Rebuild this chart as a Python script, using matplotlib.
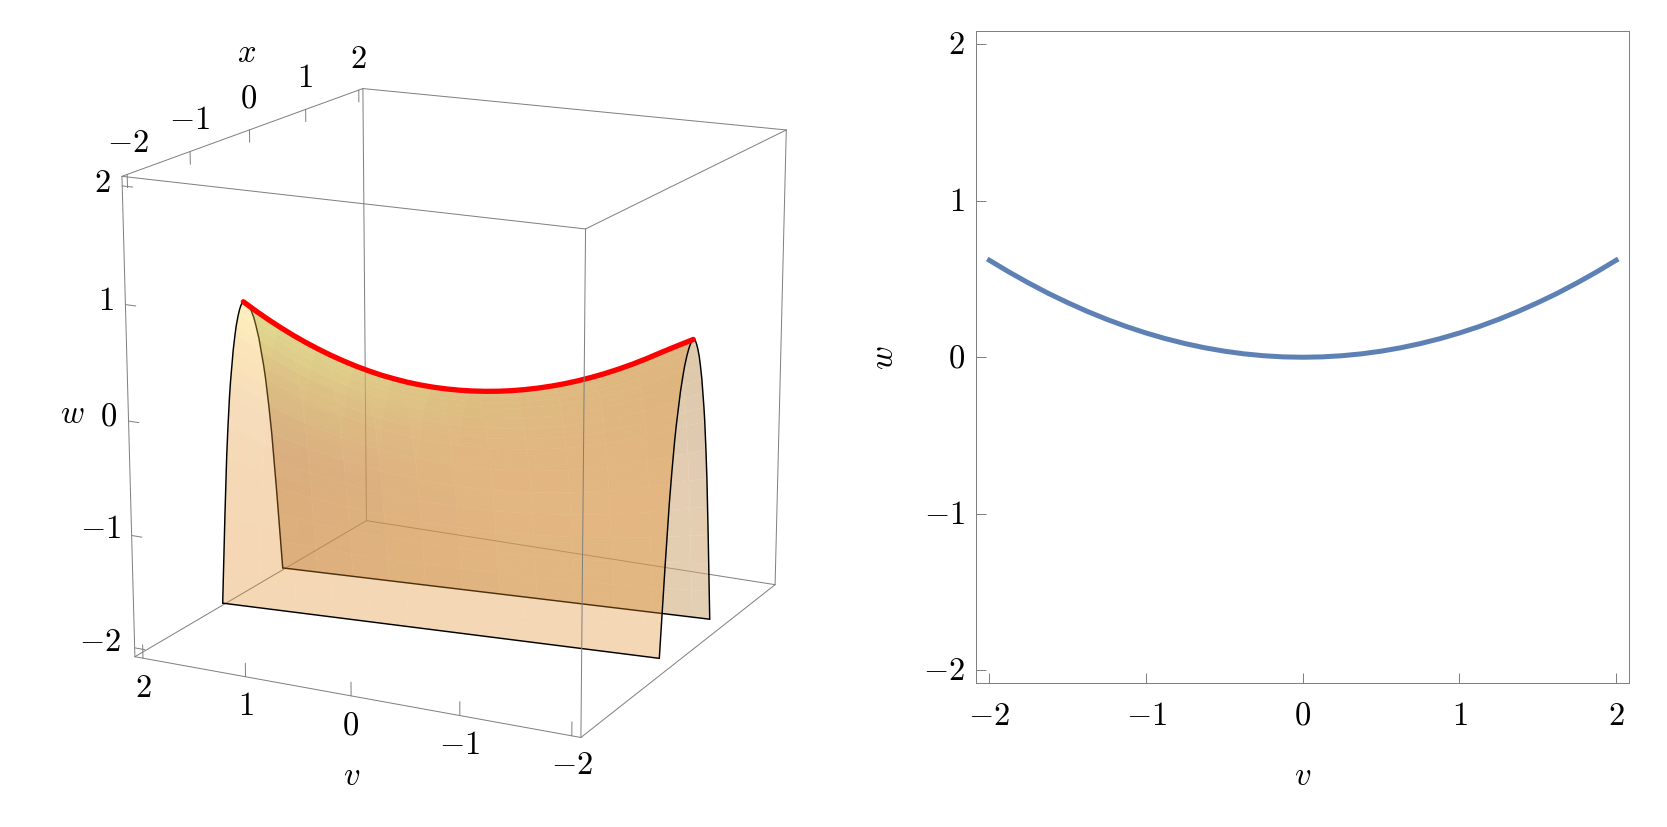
import numpy as np
import matplotlib
matplotlib.use("Agg")
import matplotlib.pyplot as plt
from mpl_toolkits.mplot3d.art3d import Line3DCollection

plt.rcParams['mathtext.fontset'] = 'cm'
plt.rcParams['font.family'] = ['DejaVu Serif']

# ---------- data: right panel curve ----------
v_half = [0, .125, .25, .375, .5, .625, .75, .875, 1, 1.125, 1.25, 1.375, 1.5, 1.625, 1.75, 1.875, 2]
w_half = [0, .0024, .0097, .0218, .0388, .0605, .0872, .1186, .155, .196, .242, .293, .349, .409, .475, .545, .62]
v_values = np.array([-a for a in v_half[:0:-1]] + v_half)
w_values = np.array(w_half[:0:-1] + w_half)

# ---------- data: 3D sheet ----------
ridge_v = np.array([2.172, 2.05, 1.925, 1.8, 1.675, 1.55, 1.425, 1.3, 1.175, 1.05, .925, .8, .675, .55,
                    .425, .3, .175, .05, -.075, -.2, -.325, -.45, -.575, -.7, -.825, -.95, -1.075,
                    -1.2, -1.325, -1.45, -1.575, -1.7, -1.825, -1.95, -2.116])
ridge_w = np.array([.533, .466, .402, .343, .288, .238, .193, .152, .116, .084, .057, .034, .017, .003,
                    -.0055, -.0096, -.0093, -.0047, .004, .0167, .0336, .0547, .08, .1093, .1427, .18, .2217,
                    .2675, .3174, .3715, .4296, .492, .5585, .623, .707])
# cross-section: fraction of the drop from the ridge, and fraction of the half-width
drop_h = np.array([0, .005, .01, .02, .04, .07, .1, .15, .2, .25, .3, .4, .5, .6, .7, .8, .9, 1])
width_g = np.array([0, .07, .10, .145, .21, .285, .34, .42, .48, .54, .59, .67, .74, .795, .85, .90, .95, 1])
# half-widths at the (v=+, v=-) ends for the front (x<0) and back (x>0) sheet, and floor levels
front_half = (0.456, 0.608)
back_half = (0.628, 0.472)
floor_ends = (-2.125, -1.89)
box_range = 2.08

tick_values = [-2, -1, 0, 1, 2]
tick_labels = [r'$-2$', r'$-1$', r'$0$', r'$1$', r'$2$']

# reference pixel positions of the eight box corners, (v, x, w) -> (px, py)
corner_signs = [(1, -1, 1), (1, 1, 1), (-1, 1, 1), (-1, -1, 1), (1, -1, -1), (1, 1, -1), (-1, 1, -1), (-1, -1, -1)]
corner_px = [(122.1, 176.9), (362.7, 89.8), (786.4, 130.9), (585.5, 230.2),
             (135.0, 657.9), (366.4, 521.6), (775.2, 585.5), (580.7, 738.5)]

# pixel centres of the text in the 3D panel
x_label_px = [(127.5, 142.5), (189.6, 120.3), (248.6, 98.7), (304.8, 78.2), (357.9, 59.1)]
w_label_px = [(100.2, 642.0), (100.2, 529.5), (108.7, 417.0), (106.1, 301.0), (102.3, 182.7)]
v_label_px = [(143.6, 687.9), (245.9, 705.8), (350.9, 725.9), (459.6, 745.5), (572.1, 765.0)]

W, H = 1667, 828
fig = plt.figure(figsize=(W / 100, H / 100), dpi=100)

# ---------- projection fitted to the box corners ----------
A, b = [], []
for (sv, sx, sw), (px, py) in zip(corner_signs, corner_px):
    X = [sv * box_range, sx * box_range, sw * box_range, 1]
    A.append(X + [0, 0, 0, 0] + [-px * c for c in X[:3]])
    b.append(px)
    A.append([0, 0, 0, 0] + X + [-py * c for c in X[:3]])
    b.append(py)
p = np.linalg.lstsq(np.array(A), np.array(b), rcond=None)[0]
P = np.append(p, 1).reshape(3, 4)
M = np.array([P[0], P[1], [0, 0, 0, 1], P[2]])

ax = fig.add_axes([0, 0, 1, 1], projection='3d', computed_zorder=False)
ax.get_proj = lambda: M
ax.apply_aspect = lambda position=None: None
ax.set_axis_off()
ax.patch.set_visible(False)

GRAY = (0.5, 0.5, 0.5)
BOX_LW = 0.72


def corner(i):
    sv, sx, sw = corner_signs[i]
    return sv * box_range, sx * box_range, sw * box_range


def lines3d(segments, z, color=GRAY, lw=BOX_LW):
    coll = Line3DCollection([np.asarray(s, float) for s in segments], colors=[color], linewidths=lw,
                            zorder=z, capstyle='round', joinstyle='round')
    ax.add_collection3d(coll, autolim=False)


# box: back edges below the surface, the rest above it
lines3d([(corner(i), corner(j)) for i, j in [(1, 5), (5, 4), (5, 6)]], 1)
lines3d([(corner(i), corner(j)) for i, j in [(0, 1), (1, 2), (2, 3), (3, 0), (4, 7), (7, 6), (6, 2), (0, 4), (3, 7)]], 8)

# ticks
tick_segs = []
for t in tick_values:
    tick_segs.append(((box_range, t, box_range), (box_range, t, box_range - 0.11)))
    tick_segs.append(((t, -box_range, -box_range), (t, -box_range, -box_range + 0.12)))
    tick_segs.append(((box_range, -box_range, t), (box_range - 0.1, -box_range, t)))
lines3d(tick_segs, 8)

COLOR_H = [0, .1, .3, .5, 1]


def sheet_colors(left, mid, right, alpha, H_grid, S_grid):
    out = np.zeros(H_grid.shape + (4,))
    for k in range(3):
        cl = np.interp(H_grid, COLOR_H, [c[k] for c in left])
        cm = np.interp(H_grid, COLOR_H, [c[k] for c in mid])
        cr = np.interp(H_grid, COLOR_H, [c[k] for c in right])
        val = np.where(S_grid > .5, cm + (cl - cm) * (S_grid - .5) * 2, cr + (cm - cr) * S_grid * 2)
        out[..., k] = val / 255
    out[..., 3] = alpha
    return out


def draw_sheet(sign, half, stops, alpha, z_surface, z_edge):
    Vg, Hg = np.meshgrid(ridge_v, drop_h)
    Gg = np.repeat(width_g[:, None], len(ridge_v), axis=1)
    Sg = (Vg - ridge_v[-1]) / (ridge_v[0] - ridge_v[-1])
    Xg = sign * (half[1] + (half[0] - half[1]) * Sg) * Gg
    floor = floor_ends[1] + (floor_ends[0] - floor_ends[1]) * Sg
    Wg = ridge_w + (floor - ridge_w) * Hg
    cols = sheet_colors(stops[0], stops[1], stops[2], alpha, Hg, Sg)
    keep = list(range(0, len(ridge_v) - 1, 3)) + [len(ridge_v) - 1]
    ax.plot_surface(Vg[:, keep], Xg[:, keep], Wg[:, keep], facecolors=cols[:, keep], shade=False,
                    rstride=1, cstride=1, linewidth=0, antialiased=True, zorder=z_surface)
    edges = [np.column_stack([Vg[:, e], Xg[:, e], Wg[:, e]]) for e in (0, -1)]
    edges.append(np.column_stack([Vg[-1, :], Xg[-1, :], Wg[-1, :]]))
    lines3d(edges, z_edge, color='black', lw=1.05)


# back sheet (x > 0)
draw_sheet(+1, back_half, (
    [(170, 190, 125), (172, 185, 122), (175, 155, 105), (180, 135, 95), (190, 145, 100)],
    [(192, 183, 110), (194, 180, 110), (205, 165, 112), (208, 166, 115), (200, 160, 110)],
    [(195, 160, 108), (195, 155, 105), (200, 160, 110), (205, 165, 115), (206, 170, 119)]),
    0.55, 2, 3)
# front sheet (x < 0)
draw_sheet(-1, front_half, (
    [(255, 212, 69), (245, 180, 55), (230, 155, 60), (228, 145, 45), (226, 141, 41)],
    [(226, 141, 41)] * 5,
    [(226, 141, 41)] * 5),
    0.35, 4, 5)

# red ridge
lines3d([np.column_stack([ridge_v, np.zeros_like(ridge_v), ridge_w])], 7, color=(1, 0, 0), lw=3.8)

ax.set_xlim(-box_range, box_range)
ax.set_ylim(-box_range, box_range)
ax.set_zlim(-box_range, box_range)
ax.viewLim.intervalx = (0, W)
ax.viewLim.intervaly = (H, 0)

FS = 23.5
for s, (x, y) in zip(tick_labels, x_label_px):
    ax.text2D(x, y, s, transform=ax.transData, ha='center', va='center', fontsize=FS)
for s, (x, y) in zip(tick_labels, w_label_px):
    ax.text2D(x, y, s, transform=ax.transData, ha='center', va='center', fontsize=FS)
for s, (x, y) in zip(tick_labels[::-1], v_label_px):
    ax.text2D(x, y, s, transform=ax.transData, ha='center', va='center', fontsize=FS)
ax.text2D(247, 52.8, r'$x$', transform=ax.transData, ha='center', va='center', fontsize=FS)
ax.text2D(71.8, 414, r'$w$', transform=ax.transData, ha='center', va='center', fontsize=FS)
ax.text2D(351.4, 776.1, r'$v$', transform=ax.transData, ha='center', va='center', fontsize=FS)

# ---------- right panel ----------
L, R, T, B = 976.2, 1629.3, 32.2, 684.3
ax2 = fig.add_axes([L / W, 1 - B / H, (R - L) / W, (B - T) / H])
ax2.plot(v_values, w_values, color='#5E81B5', lw=3.6, solid_capstyle='projecting')
ax2.set_xlim(-2.084, 2.084)
ax2.set_ylim(-2.084, 2.084)
ax2.set_xticks(tick_values, tick_labels, fontsize=FS)
ax2.set_yticks(tick_values, tick_labels, fontsize=FS, va='center')
ax2.tick_params(axis='x', direction='in', length=7, width=0.72, color=GRAY, pad=11, labelcolor='black')
ax2.tick_params(axis='y', direction='in', length=7, width=0.72, color=GRAY, pad=8, labelcolor='black')
for sp in ax2.spines.values():
    sp.set_color(GRAY)
    sp.set_linewidth(0.72)
ax2.set_xlabel(r'$v$', fontsize=FS, va='center')
ax2.set_ylabel(r'$w$', fontsize=FS, va='center', ha='center', rotation=90)
ax2.xaxis.set_label_coords(0.5, -0.1406)
ax2.yaxis.set_label_coords(-0.1406, 0.5)

fig.savefig('out.png', dpi=100)
